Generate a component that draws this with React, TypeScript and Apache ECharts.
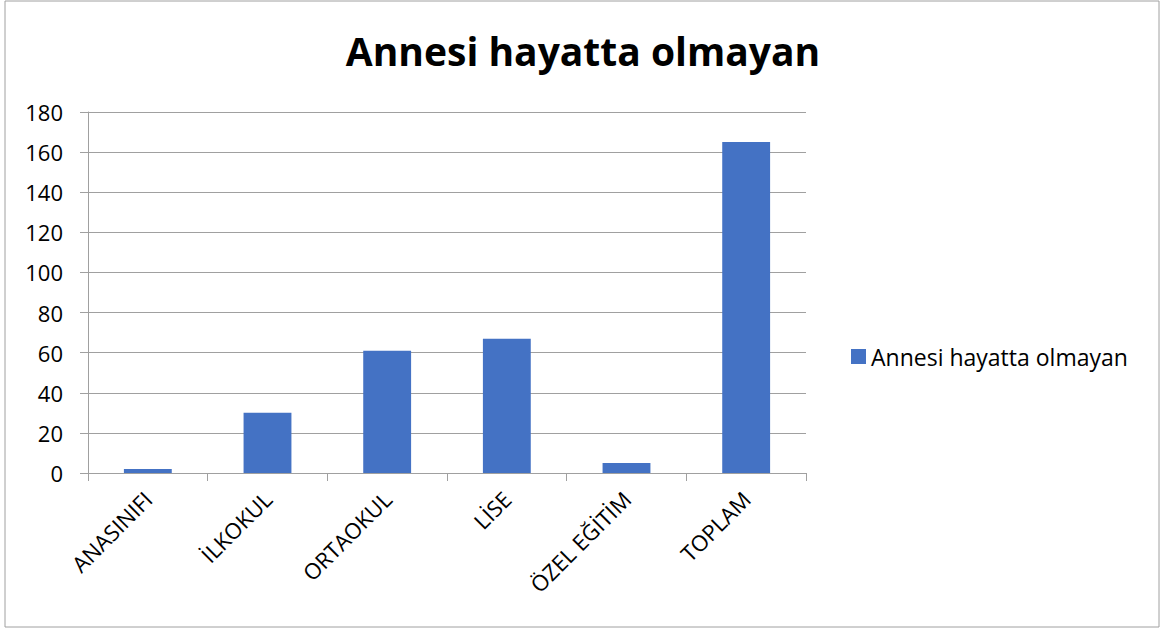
import React, { useEffect, useRef } from "react";
import * as echarts from "echarts";

const categories = ["ANASINIFI", "İLKOKUL", "ORTAOKUL", "LİSE", "ÖZEL EĞİTİM", "TOPLAM"];
const values = [2, 30, 61, 67, 5, 165];
const seriesName = "Annesi hayatta olmayan";
const titleText = "Annesi hayatta olmayan";

export default function App() {
  const ref = useRef<HTMLDivElement>(null);
  useEffect(() => {
    if (!ref.current) return;
    const chart = echarts.init(ref.current, null, { renderer: "svg" });
    const font = "'Open Sans', 'Liberation Sans', sans-serif";
    chart.setOption({
      animation: false,
      backgroundColor: "#ffffff",
      title: {
        text: titleText,
        left: "center",
        top: 26,
        textStyle: { fontSize: 39, fontWeight: "bold", color: "#000", fontFamily: font },
      },
      legend: {
        orient: "vertical",
        left: 846,
        top: 340,
        itemWidth: 15,
        itemHeight: 15,
        itemGap: 5,
        icon: "rect",
        textStyle: { fontSize: 23, color: "#000", fontFamily: font },
        data: [seriesName],
      },
      grid: { left: 88, right: 360, top: 112, bottom: 158, containLabel: false },
      xAxis: {
        type: "category",
        data: categories,
        axisLine: { show: true, lineStyle: { color: "#a0a0a0" } },
        axisTick: { show: true, length: 8, lineStyle: { color: "#a0a0a0" } },
        axisLabel: { rotate: 45, fontSize: 22, color: "#000", fontFamily: font, margin: 22, interval: 0 },
      },
      yAxis: {
        type: "value",
        min: 0,
        max: 180,
        interval: 20,
        axisLine: { show: true, lineStyle: { color: "#a0a0a0" } },
        axisTick: { show: true, length: 8, lineStyle: { color: "#a0a0a0" } },
        splitLine: { show: true, lineStyle: { color: "#a0a0a0" } },
        axisLabel: { fontSize: 22, color: "#000", fontFamily: font, margin: 25 },
      },
      series: [
        {
          name: seriesName,
          type: "bar",
          data: values,
          barCategoryGap: "60%",
          itemStyle: { color: "#4472c4" },
        },
      ],
      graphic: [
        {
          type: "rect",
          shape: { x: 5, y: 1, width: 1154, height: 626 },
          style: { fill: "none", stroke: "#a0a0a0", lineWidth: 1 },
          silent: true,
        },
      ],
    });
    return () => chart.dispose();
  }, []);
  return (
    <div
      ref={ref}
      style={{ position: "absolute", left: 0, top: 0, width: 1166, height: 631 }}
    />
  );
}
